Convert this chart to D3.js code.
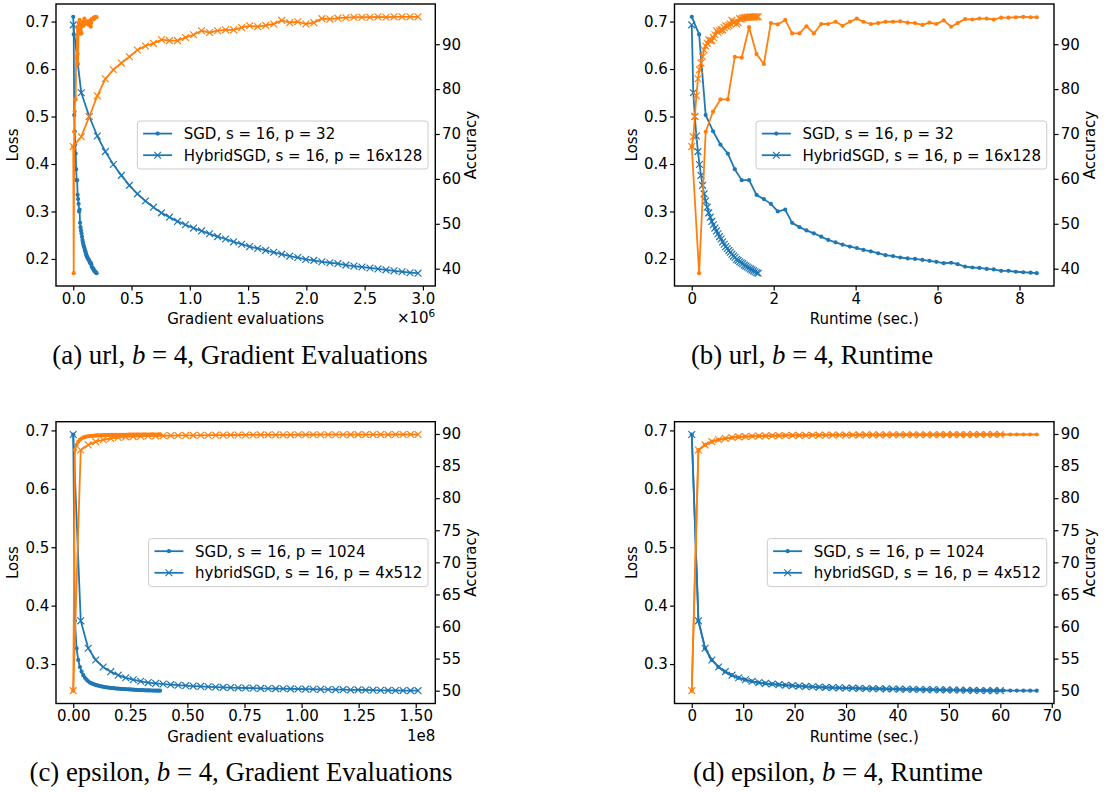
<!DOCTYPE html>
<html>
<head>
<meta charset="utf-8">
<script src="https://cdn.jsdelivr.net/npm/d3@7"></script>
<style>
  body { margin: 0; background: #fff; }
  svg { display: block; }
</style>
</head>
<body>
<script>
// ---------- url dataset (b = 4) ----------
// SGD, s = 16, p = 32 : one entry per logging step
const urlSgdRuntime = [0, 0.18, 0.34, 0.52, 0.70, 0.88, 1.05, 1.22, 1.40, 1.58, 1.76, 1.93, 2.10, 2.28, 2.45, 2.63, 2.80, 2.98, 3.16, 3.33, 3.51, 3.68, 3.86, 4.03, 4.19, 4.37, 4.55, 4.73, 4.91, 5.09, 5.27, 5.45, 5.63, 5.80, 5.97, 6.15, 6.33, 6.49, 6.67, 6.85, 7.02, 7.20, 7.37, 7.55, 7.73, 7.91, 8.09, 8.27, 8.42];
const urlSgdLoss = [0.710, 0.673, 0.503, 0.469, 0.441, 0.422, 0.389, 0.366, 0.366, 0.335, 0.326, 0.316, 0.300, 0.304, 0.276, 0.267, 0.260, 0.254, 0.247, 0.240, 0.235, 0.230, 0.226, 0.223, 0.219, 0.216, 0.212, 0.208, 0.206, 0.203, 0.201, 0.200, 0.198, 0.196, 0.194, 0.191, 0.192, 0.189, 0.184, 0.182, 0.181, 0.179, 0.178, 0.175, 0.175, 0.173, 0.172, 0.171, 0.170];
const urlSgdAcc = [67.2, 39.0, 70.5, 75.0, 77.7, 77.7, 87.2, 87.0, 93.8, 87.8, 85.6, 94.7, 94.4, 95.4, 92.4, 92.4, 94.0, 92.4, 94.5, 94.5, 95.0, 94.1, 95.0, 95.7, 95.0, 94.5, 94.7, 95.0, 95.0, 95.1, 94.8, 94.7, 94.3, 94.8, 94.5, 95.3, 93.9, 94.7, 95.6, 95.5, 95.7, 95.7, 95.5, 95.9, 95.9, 96.0, 96.1, 96.0, 96.0];
const urlSgdEvalsPerStep = 4170;

// HybridSGD, s = 16, p = 16x128
const urlHybridLoss = [0.693, 0.550, 0.500, 0.459, 0.426, 0.399, 0.376, 0.355, 0.337, 0.322, 0.309, 0.297, 0.288, 0.279, 0.272, 0.265, 0.259, 0.253, 0.247, 0.242, 0.236, 0.231, 0.226, 0.222, 0.218, 0.214, 0.210, 0.206, 0.203, 0.199, 0.197, 0.194, 0.192, 0.190, 0.187, 0.185, 0.183, 0.181, 0.179, 0.177, 0.175, 0.173, 0.171, 0.170];
const urlHybridAcc = [67.2, 69.4, 73.9, 78.5, 82.3, 84.3, 85.8, 87.2, 88.7, 89.6, 90.2, 91.0, 90.8, 90.8, 91.5, 92.1, 93.0, 92.6, 93.0, 93.2, 93.2, 93.7, 94.1, 93.9, 94.2, 94.5, 95.3, 94.8, 95.0, 94.5, 94.8, 95.7, 95.6, 95.8, 95.9, 96.0, 96.0, 96.0, 96.1, 96.0, 96.1, 96.1, 96.1, 96.1];
const urlHybridEvalsPerStep = 68800;
const urlHybridSecPerStep = 0.0377;

// ---------- epsilon dataset (b = 4) ----------
// SGD, s = 16, p = 1024
const epsSgdLoss = [0.693, 0.374, 0.327, 0.307, 0.295, 0.287, 0.281, 0.2765, 0.2732, 0.2705,
  0.2683, 0.2670, 0.2658, 0.2647, 0.2638, 0.2630, 0.2623, 0.2617, 0.2611, 0.2606,
  0.2601, 0.2597, 0.2593, 0.2590, 0.2587, 0.2584, 0.2581, 0.2579, 0.2577, 0.2575,
  0.2573, 0.2571, 0.2569, 0.2567, 0.2565, 0.2563, 0.2561, 0.2559, 0.2558, 0.2556,
  0.2555, 0.2553, 0.2552, 0.2551, 0.2550, 0.2549, 0.2548, 0.2547, 0.2546, 0.2546,
  0.2545, 0.2545, 0.2544];
const epsSgdAcc = [50.0, 87.5, 88.3, 88.8, 89.1, 89.3, 89.45, 89.55, 89.6, 89.65,
  89.68, 89.71, 89.73, 89.75, 89.77, 89.78, 89.79, 89.8, 89.81, 89.82,
  89.83, 89.84, 89.84, 89.85, 89.85, 89.86, 89.86, 89.87, 89.87, 89.87,
  89.88, 89.88, 89.88, 89.89, 89.89, 89.89, 89.89, 89.9, 89.9, 89.9,
  89.9, 89.9, 89.91, 89.91, 89.91, 89.91, 89.91, 89.92, 89.92, 89.92,
  89.92, 89.92, 89.92];
const epsSgdEvalsPerStep = 731000;
const epsSgdSecPerStep = 1.29;

// hybridSGD, s = 16, p = 4x512
const epsHybridLoss = [0.693, 0.374, 0.327, 0.307, 0.295, 0.287, 0.281, 0.2765, 0.2732, 0.2705,
  0.2683, 0.2670, 0.2658, 0.2647, 0.2638, 0.2630, 0.2623, 0.2617, 0.2611, 0.2606,
  0.2601, 0.2597, 0.2593, 0.2590, 0.2587, 0.2584, 0.2581, 0.2579, 0.2577, 0.2575,
  0.2573, 0.2571, 0.2569, 0.2567, 0.2565, 0.2563, 0.2561, 0.2559, 0.2558, 0.2556,
  0.2553, 0.2551, 0.2549, 0.2547, 0.2546, 0.2545, 0.2544];
const epsHybridAcc = [50.0, 87.5, 88.3, 88.8, 89.1, 89.3, 89.45, 89.55, 89.6, 89.65,
  89.68, 89.71, 89.73, 89.75, 89.77, 89.78, 89.79, 89.8, 89.81, 89.82,
  89.83, 89.84, 89.84, 89.85, 89.85, 89.86, 89.86, 89.87, 89.87, 89.87,
  89.88, 89.88, 89.88, 89.89, 89.89, 89.89, 89.89, 89.9, 89.9, 89.9,
  89.91, 89.91, 89.91, 89.92, 89.92, 89.92, 89.92];
const epsHybridEvalsPerStep = 3283000;
const epsHybridSecPerStep = 1.304;

// ---------- tick values ----------
const urlEvalTicks = [0, 0.5e6, 1.0e6, 1.5e6, 2.0e6, 2.5e6, 3.0e6];
const urlTimeTicks = [0, 2, 4, 6, 8];
const urlLossTicks = [0.2, 0.3, 0.4, 0.5, 0.6, 0.7];
const urlAccTicks = [40, 50, 60, 70, 80, 90];
const epsEvalTicks = [0, 0.25e8, 0.5e8, 0.75e8, 1.0e8, 1.25e8, 1.5e8];
const epsTimeTicks = [0, 10, 20, 30, 40, 50, 60, 70];
const epsLossTicks = [0.3, 0.4, 0.5, 0.6, 0.7];
const epsAccTicks = [50, 55, 60, 65, 70, 75, 80, 85, 90];

const urlLegend = ['SGD, s = 16, p = 32', 'HybridSGD, s = 16, p = 16x128'];
const epsLegend = ['SGD, s = 16, p = 1024', 'hybridSGD, s = 16, p = 4x512'];

const steps = (n, per) => d3.range(n).map(i => i * per);

// ---------- drawing ----------
const W = 1104, H = 792;
const BLUE = '#1f77b4', ORANGE = '#ff7f0e';
const FONT = '"DejaVu Sans", sans-serif';
const FS = 15;
const CAPTION_FS = 26.8;

const svg = d3.select('body').append('svg')
  .attr('width', W).attr('height', H)
  .attr('font-family', FONT);

function padded(values) {
  const [a, b] = d3.extent(values);
  const m = (b - a) * 0.05;
  return [a - m, b + m];
}

function drawMarkers(g, pts, color, kind) {
  if (kind === 'dot') {
    g.selectAll(null).data(pts).join('circle')
      .attr('cx', d => d[0]).attr('cy', d => d[1]).attr('r', 2.1)
      .attr('fill', color);
  } else {
    const s = 3.4;
    g.selectAll(null).data(pts).join('path')
      .attr('d', d => `M${d[0] - s},${d[1] - s}L${d[0] + s},${d[1] + s}M${d[0] - s},${d[1] + s}L${d[0] + s},${d[1] - s}`)
      .attr('stroke', color).attr('stroke-width', 1.2).attr('fill', 'none');
  }
}

function drawSeries(g, xs, ys, x, y, color, kind) {
  const pts = xs.map((v, i) => [x(v), y(ys[i])]);
  g.append('path')
    .attr('d', d3.line()(pts))
    .attr('fill', 'none').attr('stroke', color)
    .attr('stroke-width', 1.8).attr('stroke-linejoin', 'round');
  drawMarkers(g, pts, color, kind);
}

function styleAxis(sel) {
  sel.attr('font-family', FONT).attr('font-size', FS);
  sel.select('.domain').remove();
  sel.selectAll('.tick line').attr('stroke', '#000').attr('stroke-width', 1.2);
  sel.selectAll('.tick text').attr('fill', '#000');
}

let clipId = 0;
function drawPanel(p) {
  const { L, R, T, B } = p;
  const g = svg.append('g');
  const allX = p.series.flatMap(s => s.x);
  const x = d3.scaleLinear().domain(padded(allX)).range([L, R]);
  const yL = d3.scaleLinear().domain(padded(p.series.flatMap(s => s.loss))).range([B, T]);
  const yR = d3.scaleLinear().domain(padded(p.series.flatMap(s => s.acc))).range([B, T]);

  const cid = 'clip' + (clipId++);
  g.append('clipPath').attr('id', cid).append('rect')
    .attr('x', L).attr('y', T).attr('width', R - L).attr('height', B - T);

  // loss curves on the left axis
  const lossLayer = g.append('g').attr('clip-path', `url(#${cid})`);
  p.series.forEach(s => drawSeries(lossLayer, s.x, s.loss, x, yL, BLUE, s.marker));

  // legend (center right)
  const lg = g.append('g');
  const handleLen = 29, bpad = 5.8, tpad = 11.6, h = 48;
  const texts = p.legend.map(label => lg.append('text')
    .attr('font-size', FS).attr('fill', '#000').text(label));
  const tw = d3.max(texts, t => t.node().getComputedTextLength());
  const w = bpad + handleLen + tpad + tw + bpad;
  const bx = R - 7.25 - w, by = (T + B) / 2 - h / 2;
  lg.insert('rect', 'text')
    .attr('x', bx).attr('y', by).attr('width', w).attr('height', h)
    .attr('rx', 3).attr('fill', '#fff').attr('fill-opacity', 0.8)
    .attr('stroke', '#cccccc').attr('stroke-width', 1);
  const rowY = [by + 12.6, by + 34.2];
  p.series.forEach((s, i) => {
    const yy = rowY[i];
    lg.append('line').attr('x1', bx + bpad).attr('x2', bx + bpad + handleLen)
      .attr('y1', yy).attr('y2', yy).attr('stroke', BLUE).attr('stroke-width', 1.8);
    drawMarkers(lg.append('g'), [[bx + bpad + handleLen / 2, yy]], BLUE, s.marker);
    texts[i].attr('x', bx + bpad + handleLen + tpad).attr('y', yy).attr('dy', '0.36em');
  });

  // accuracy curves on the right axis
  const accLayer = g.append('g').attr('clip-path', `url(#${cid})`);
  p.series.forEach(s => drawSeries(accLayer, s.x, s.acc, x, yR, ORANGE, s.marker));

  // frame
  g.append('rect').attr('x', L).attr('y', T).attr('width', R - L).attr('height', B - T)
    .attr('fill', 'none').attr('stroke', '#000').attr('stroke-width', 1.4);

  // axes
  g.append('g').attr('transform', `translate(0,${B})`)
    .call(d3.axisBottom(x).tickValues(p.xTicks).tickFormat(p.xFormat)
      .tickSizeInner(4.5).tickSizeOuter(0).tickPadding(2.4))
    .call(styleAxis);
  g.append('g').attr('transform', `translate(${L},0)`)
    .call(d3.axisLeft(yL).tickValues(p.lossTicks).tickFormat(d3.format('.1f'))
      .tickSizeInner(4.5).tickSizeOuter(0).tickPadding(2.2))
    .call(styleAxis);
  g.append('g').attr('transform', `translate(${R},0)`)
    .call(d3.axisRight(yR).tickValues(p.accTicks).tickFormat(d3.format('d'))
      .tickSizeInner(4.5).tickSizeOuter(0).tickPadding(2.2))
    .call(styleAxis);

  // axis titles
  g.append('text').attr('x', (L + R) / 2).attr('y', B + 38)
    .attr('text-anchor', 'middle').attr('font-size', FS).text(p.xLabel);
  g.append('text').attr('transform', `translate(${L - 38},${(T + B) / 2}) rotate(-90)`)
    .attr('text-anchor', 'middle').attr('font-size', FS).text('Loss');
  g.append('text').attr('transform', `translate(${R + 41},${(T + B) / 2}) rotate(-90)`)
    .attr('text-anchor', 'middle').attr('font-size', FS).text('Accuracy');

  if (p.offset === 'x1e6') {
    const t = g.append('text').attr('x', R).attr('y', B + 37)
      .attr('text-anchor', 'end').attr('font-size', FS);
    t.append('tspan').text('×10');
    t.append('tspan').attr('font-size', FS * 0.7).attr('dy', -6).text('6');
  } else if (p.offset === '1e8') {
    g.append('text').attr('x', R).attr('y', B + 37)
      .attr('text-anchor', 'end').attr('font-size', FS).text('1e8');
  }

  // caption
  const c = svg.append('text').attr('x', p.capX).attr('y', p.capY)
    .attr('text-anchor', 'middle').attr('font-family', '"Liberation Serif", "Times New Roman", serif')
    .attr('font-size', CAPTION_FS).attr('fill', '#000');
  c.append('tspan').text(p.capPre);
  c.append('tspan').attr('font-style', 'italic').text('b');
  c.append('tspan').text(' = 4, ' + p.capPost);
}

const fmt1e6 = d => (d / 1e6).toFixed(1);
const fmt1e8 = d => (d / 1e8).toFixed(2);

const urlSgdEvals = steps(urlSgdLoss.length, urlSgdEvalsPerStep);
const urlHybridEvals = steps(urlHybridLoss.length, urlHybridEvalsPerStep);
const urlHybridRuntime = steps(urlHybridLoss.length, urlHybridSecPerStep);
const epsSgdEvals = steps(epsSgdLoss.length, epsSgdEvalsPerStep);
const epsSgdRuntime = steps(epsSgdLoss.length, epsSgdSecPerStep);
const epsHybridEvals = steps(epsHybridLoss.length, epsHybridEvalsPerStep);
const epsHybridRuntime = steps(epsHybridLoss.length, epsHybridSecPerStep);

const panels = [
  { L: 56, R: 435.3, T: 4, B: 286,
    series: [
      { x: urlSgdEvals, loss: urlSgdLoss, acc: urlSgdAcc, marker: 'dot' },
      { x: urlHybridEvals, loss: urlHybridLoss, acc: urlHybridAcc, marker: 'x' }],
    xTicks: urlEvalTicks, xFormat: fmt1e6, lossTicks: urlLossTicks, accTicks: urlAccTicks,
    legend: urlLegend, xLabel: 'Gradient evaluations', offset: 'x1e6',
    capX: 240, capY: 364, capPre: '(a) url, ', capPost: 'Gradient Evaluations' },
  { L: 674.5, R: 1054, T: 4, B: 286,
    series: [
      { x: urlSgdRuntime, loss: urlSgdLoss, acc: urlSgdAcc, marker: 'dot' },
      { x: urlHybridRuntime, loss: urlHybridLoss, acc: urlHybridAcc, marker: 'x' }],
    xTicks: urlTimeTicks, xFormat: d3.format('d'), lossTicks: urlLossTicks, accTicks: urlAccTicks,
    legend: urlLegend, xLabel: 'Runtime (sec.)', offset: null,
    capX: 812, capY: 364, capPre: '(b) url, ', capPost: 'Runtime' },
  { L: 56, R: 435.3, T: 421.7, B: 703.5,
    series: [
      { x: epsSgdEvals, loss: epsSgdLoss, acc: epsSgdAcc, marker: 'dot' },
      { x: epsHybridEvals, loss: epsHybridLoss, acc: epsHybridAcc, marker: 'x' }],
    xTicks: epsEvalTicks, xFormat: fmt1e8, lossTicks: epsLossTicks, accTicks: epsAccTicks,
    legend: epsLegend, xLabel: 'Gradient evaluations', offset: '1e8',
    capX: 241, capY: 781, capPre: '(c) epsilon, ', capPost: 'Gradient Evaluations' },
  { L: 674.5, R: 1054, T: 421.7, B: 703.5,
    series: [
      { x: epsSgdRuntime, loss: epsSgdLoss, acc: epsSgdAcc, marker: 'dot' },
      { x: epsHybridRuntime, loss: epsHybridLoss, acc: epsHybridAcc, marker: 'x' }],
    xTicks: epsTimeTicks, xFormat: d3.format('d'), lossTicks: epsLossTicks, accTicks: epsAccTicks,
    legend: epsLegend, xLabel: 'Runtime (sec.)', offset: null,
    capX: 838, capY: 781, capPre: '(d) epsilon, ', capPost: 'Runtime' }
];

panels.forEach(drawPanel);
</script>
</body>
</html>
